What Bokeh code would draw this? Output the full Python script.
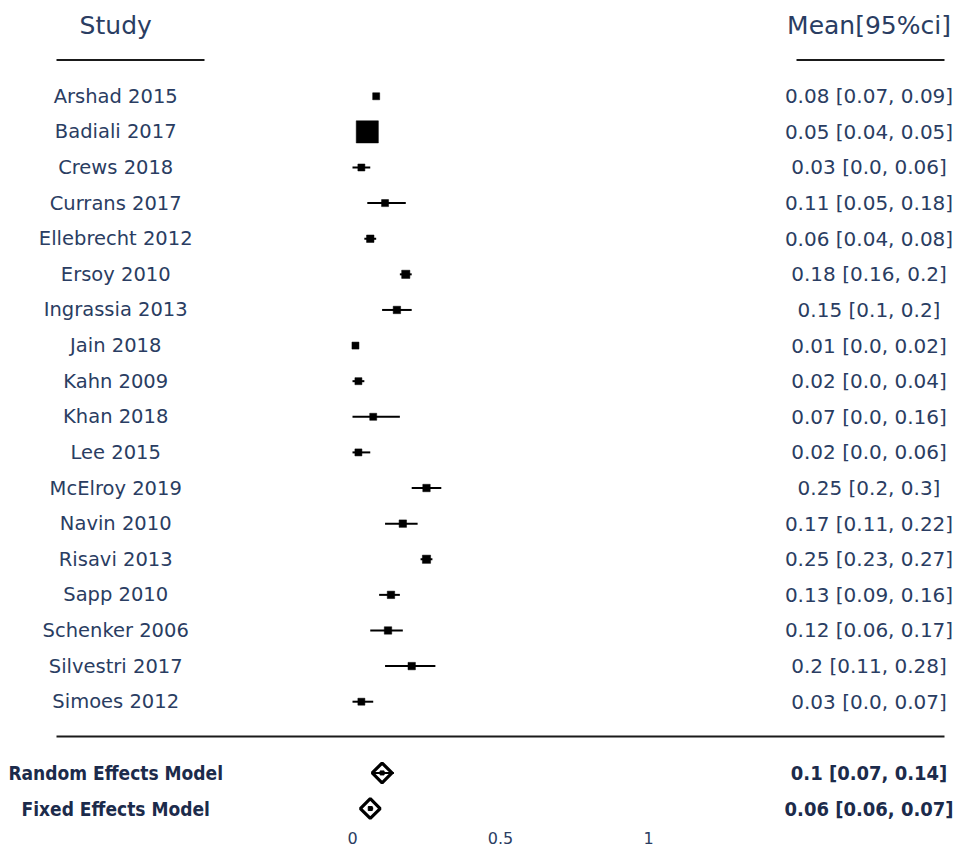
from bokeh.plotting import figure
from bokeh.models import Range1d, FixedTicker, ColumnDataSource
from bokeh.core.properties import value
from bokeh.embed import file_html
from bokeh.resources import INLINE
import math

# ---------------- data ----------------
studies = ["Arshad 2015", "Badiali 2017", "Crews 2018", "Currans 2017", "Ellebrecht 2012",
           "Ersoy 2010", "Ingrassia 2013", "Jain 2018", "Kahn 2009", "Khan 2018",
           "Lee 2015", "McElroy 2019", "Navin 2010", "Risavi 2013", "Sapp 2010",
           "Schenker 2006", "Silvestri 2017", "Simoes 2012"]
means = [0.08, 0.05, 0.03, 0.11, 0.06, 0.18, 0.15, 0.01, 0.02, 0.07,
         0.02, 0.25, 0.17, 0.25, 0.13, 0.12, 0.2, 0.03]
lower = [0.07, 0.04, 0.0, 0.05, 0.04, 0.16, 0.1, 0.0, 0.0, 0.0,
         0.0, 0.2, 0.11, 0.23, 0.09, 0.06, 0.11, 0.0]
upper = [0.09, 0.05, 0.06, 0.18, 0.08, 0.2, 0.2, 0.02, 0.04, 0.16,
         0.06, 0.3, 0.22, 0.27, 0.16, 0.17, 0.28, 0.07]
weights = [4.0, 40.0, 4.0, 4.0, 4.5, 5.5, 4.5, 4.0, 4.0, 4.0,
           4.0, 4.5, 4.5, 5.5, 4.5, 4.5, 4.5, 4.0]

models = ["Random Effects Model", "Fixed Effects Model"]
model_means = [0.1, 0.06]
model_lower = [0.07, 0.06]
model_upper = [0.14, 0.07]

tick_values = [0, 0.5, 1]

# ---------------- layout constants ----------------
NAVY = "#2a3d62"
NAVY_BOLD = "#1c2b4b"
LABEL_X = -0.8
CI_X = 1.745
HEADER_Y = -2
UNDERLINE_Y = -1.02
SEP_Y = 17.98

n = len(studies)
rows = list(range(n))
model_rows = [n + 1, n + 2]

p = figure(width=954, height=851, output_backend="svg", toolbar_location=None,
           x_range=Range1d(-1.1892, 2.0338), y_range=Range1d(20.476, -2.689),
           y_axis_location=None, min_border=0, min_border_bottom=26,
           min_border_left=0, min_border_right=0, min_border_top=0)
p.outline_line_color = None
p.xgrid.visible = False
p.ygrid.visible = False
p.background_fill_color = "white"
p.border_fill_color = "white"

ax = p.xaxis[0]
ax.ticker = FixedTicker(ticks=tick_values)
ax.axis_line_color = None
ax.major_tick_line_color = None
ax.minor_tick_line_color = None
ax.major_tick_out = 0
ax.major_tick_in = 0
ax.major_label_standoff = 6
ax.major_label_text_font = "DejaVu Sans"
ax.major_label_text_font_size = "16px"
ax.major_label_text_color = NAVY

# study source
src = ColumnDataSource(dict(
    study=studies, mean=means, lo=lower, hi=upper, row=rows,
    size=[3.5 * math.sqrt(w) for w in weights],
    label_x=[LABEL_X] * n, ci_x=[CI_X] * n,
    ci_text=[f"{m} [{l}, {h}]" for m, l, h in zip(means, lower, upper)],
))

p.segment(x0="lo", x1="hi", y0="row", y1="row", source=src, line_color="black", line_width=2)
p.scatter(x="mean", y="row", size="size", marker="square", source=src,
          fill_color="black", line_color="black", line_width=0.5)

p.text(x="label_x", y="row", text="study", source=src, text_align="center",
       text_baseline="middle", text_font=value("DejaVu Sans"), text_font_size="19.5px",
       text_color=NAVY)
p.text(x="ci_x", y="row", text="ci_text", source=src, text_align="center",
       text_baseline="middle", text_font=value("DejaVu Sans"), text_font_size="20px",
       text_color=NAVY)

# headers
p.text(x=[LABEL_X, CI_X], y=[HEADER_Y, HEADER_Y], text=["Study", "Mean[95%ci]"],
       text_align="center", text_baseline="middle", text_font=value("DejaVu Sans"),
       text_font_size="25px", text_color=NAVY)
p.segment(x0=[-1.0, 1.5], x1=[-0.5, 2.0], y0=[UNDERLINE_Y] * 2, y1=[UNDERLINE_Y] * 2,
          line_color="#1a1a1a", line_width=2)
p.segment(x0=[-1.0], x1=[2.0], y0=[SEP_Y], y1=[SEP_Y], line_color="#1a1a1a", line_width=2)

# models
msrc = ColumnDataSource(dict(
    model=models, mean=model_means, lo=model_lower, hi=model_upper, row=model_rows,
    label_x=[LABEL_X] * 2, ci_x=[CI_X] * 2,
    ci_text=[f"{m} [{l}, {h}]" for m, l, h in zip(model_means, model_lower, model_upper)],
))
p.scatter(x="mean", y="row", size=14, marker="square", angle=math.pi / 4, source=msrc,
          fill_color="white", line_color="black", line_width=3.2)
p.segment(x0="lo", x1="hi", y0="row", y1="row", source=msrc, line_color="black", line_width=2)
p.scatter(x="mean", y="row", size=4, marker="square", source=msrc,
          fill_color="black", line_color="black")

p.text(x="label_x", y="row", text="model", source=msrc, text_align="center",
       text_baseline="middle", text_font=value("DejaVu Sans Condensed"), text_font_size="19px",
       text_font_style="bold", text_color=NAVY_BOLD)
p.text(x="ci_x", y="row", text="ci_text", source=msrc, text_align="center",
       text_baseline="middle", text_font=value("DejaVu Sans Condensed"), text_font_size="20px",
       text_font_style="bold", text_color=NAVY_BOLD)

open("out.html", "w").write(file_html(p, INLINE))
